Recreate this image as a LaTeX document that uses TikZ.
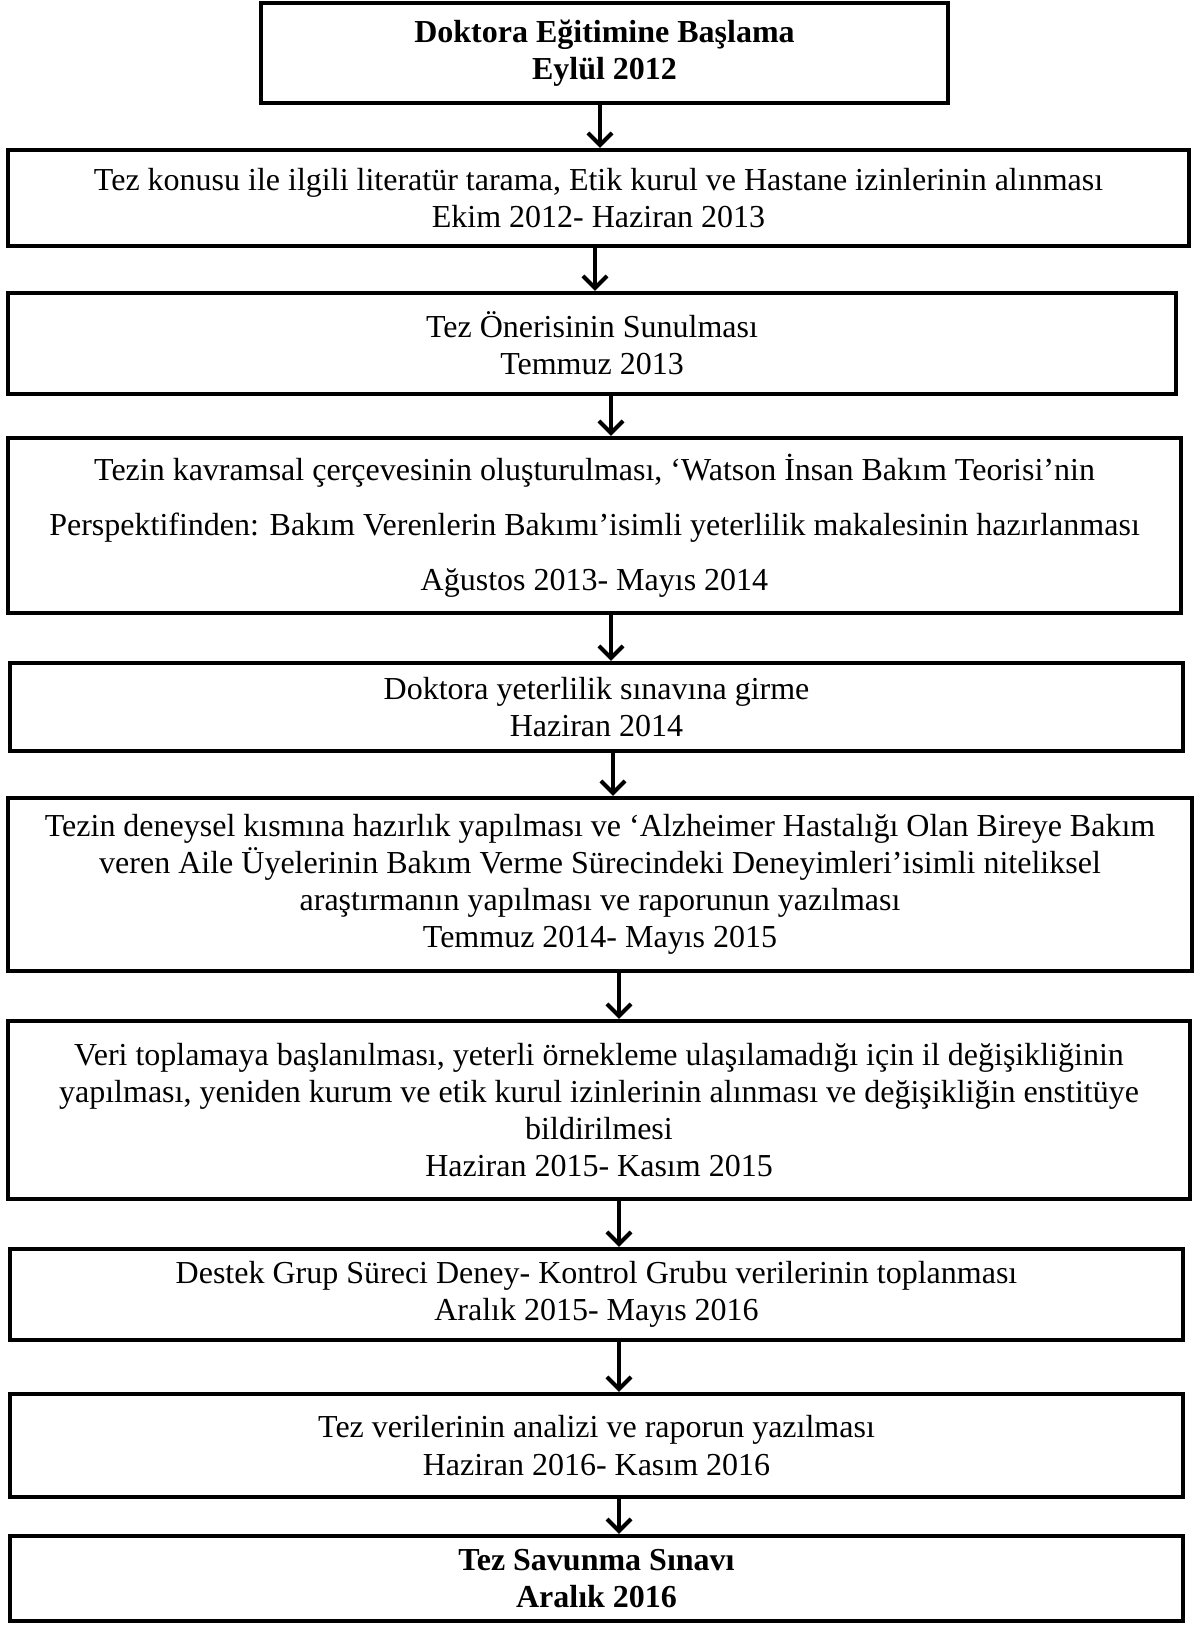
\documentclass[tikz,border=0pt]{standalone}
\usepackage{fontspec}
\setmainfont{Liberation Serif}
\usetikzlibrary{arrows.meta}

\begin{document}
\begin{tikzpicture}[x=0.5pt, y=-0.5pt, line width=2.2pt,
  etap/.style={draw=black, fill=white, align=center, inner sep=0pt,
    font=\fontsize{16}{18.6}\selectfont},
  ok/.style={-{Straight Barb[length=6pt, width=12pt, line width=2pt]}, line width=2pt}]
\useasboundingbox (0,0) rectangle (1201,1625);
% box 1
\node[etap, minimum width=343.5pt, minimum height=50pt] (b1) at (604.5,53)
  {\textbf{Doktora Eğitimine Başlama}\\\textbf{Eylül 2012}};
% box 2
\node[etap, minimum width=590.5pt, minimum height=48pt] (b2) at (598.5,198)
  {Tez konusu ile ilgili literatür tarama, Etik kurul ve Hastane izinlerinin alınması\\Ekim 2012- Haziran 2013};
% box 3
\node[etap, minimum width=584pt, minimum height=50.5pt] (b3) at (592,343.5)
  {Tez Önerisinin Sunulması\\Temmuz 2013};
% box 4
\node[etap, minimum width=586.5pt, minimum height=87.5pt,
  font=\fontsize{16}{27.5}\selectfont] (b4) at (594.5,525.5)
  {Tezin kavramsal çerçevesinin oluşturulması, ‘Watson İnsan Bakım Teorisi’nin\\Perspektifinden: Bakım Verenlerin Bakımı’isimli yeterlilik makalesinin hazırlanması\\Ağustos 2013- Mayıs 2014};
% box 5
\node[etap, minimum width=586.5pt, minimum height=44pt] (b5) at (596.5,707)
  {Doktora yeterlilik sınavına girme\\Haziran 2014};
% box 6
\node[etap, minimum width=592pt, minimum height=86.5pt] (b6) at (600,884.5)
  {Tezin deneysel kısmına hazırlık yapılması ve ‘Alzheimer Hastalığı Olan Bireye Bakım\\veren Aile Üyelerinin Bakım Verme Sürecindeki Deneyimleri’isimli niteliksel\\araştırmanın yapılması ve raporunun yazılması\\Temmuz 2014- Mayıs 2015};
% box 7
\node[etap, minimum width=591pt, minimum height=89pt] (b7) at (599,1110)
  {Veri toplamaya başlanılması, yeterli örnekleme ulaşılamadığı için il değişikliğinin\\yapılması, yeniden kurum ve etik kurul izinlerinin alınması ve değişikliğin enstitüye\\bildirilmesi\\Haziran 2015- Kasım 2015};
% box 8
\node[etap, minimum width=586.5pt, minimum height=45.5pt] (b8) at (596.5,1294.5)
  {Destek Grup Süreci Deney- Kontrol Grubu verilerinin toplanması\\Aralık 2015- Mayıs 2016};
% box 9
\node[etap, minimum width=586.5pt, minimum height=51.5pt] (b9) at (596.5,1445.5)
  {Tez verilerinin analizi ve raporun yazılması\\Haziran 2016- Kasım 2016};
% box 10
\node[etap, minimum width=586.5pt, minimum height=42.5pt] (b10) at (596.5,1578.5)
  {\textbf{Tez Savunma Sınavı}\\\textbf{Aralık 2016}};
%% arrows
\draw[ok] (b1.south -| 600,0) -- (b2.north -| 600,0);
\draw[ok] (b2.south -| 595,0) -- (b3.north -| 595,0);
\draw[ok] (b3.south -| 611,0) -- (b4.north -| 611,0);
\draw[ok] (b4.south -| 611,0) -- (b5.north -| 611,0);
\draw[ok] (b5.south -| 613,0) -- (b6.north -| 613,0);
\draw[ok] (b6.south -| 619,0) -- (b7.north -| 619,0);
\draw[ok] (b7.south -| 619,0) -- (b8.north -| 619,0);
\draw[ok] (b8.south -| 619,0) -- (b9.north -| 619,0);
\draw[ok] (b9.south -| 619,0) -- (b10.north -| 619,0);
\end{tikzpicture}
\end{document}
